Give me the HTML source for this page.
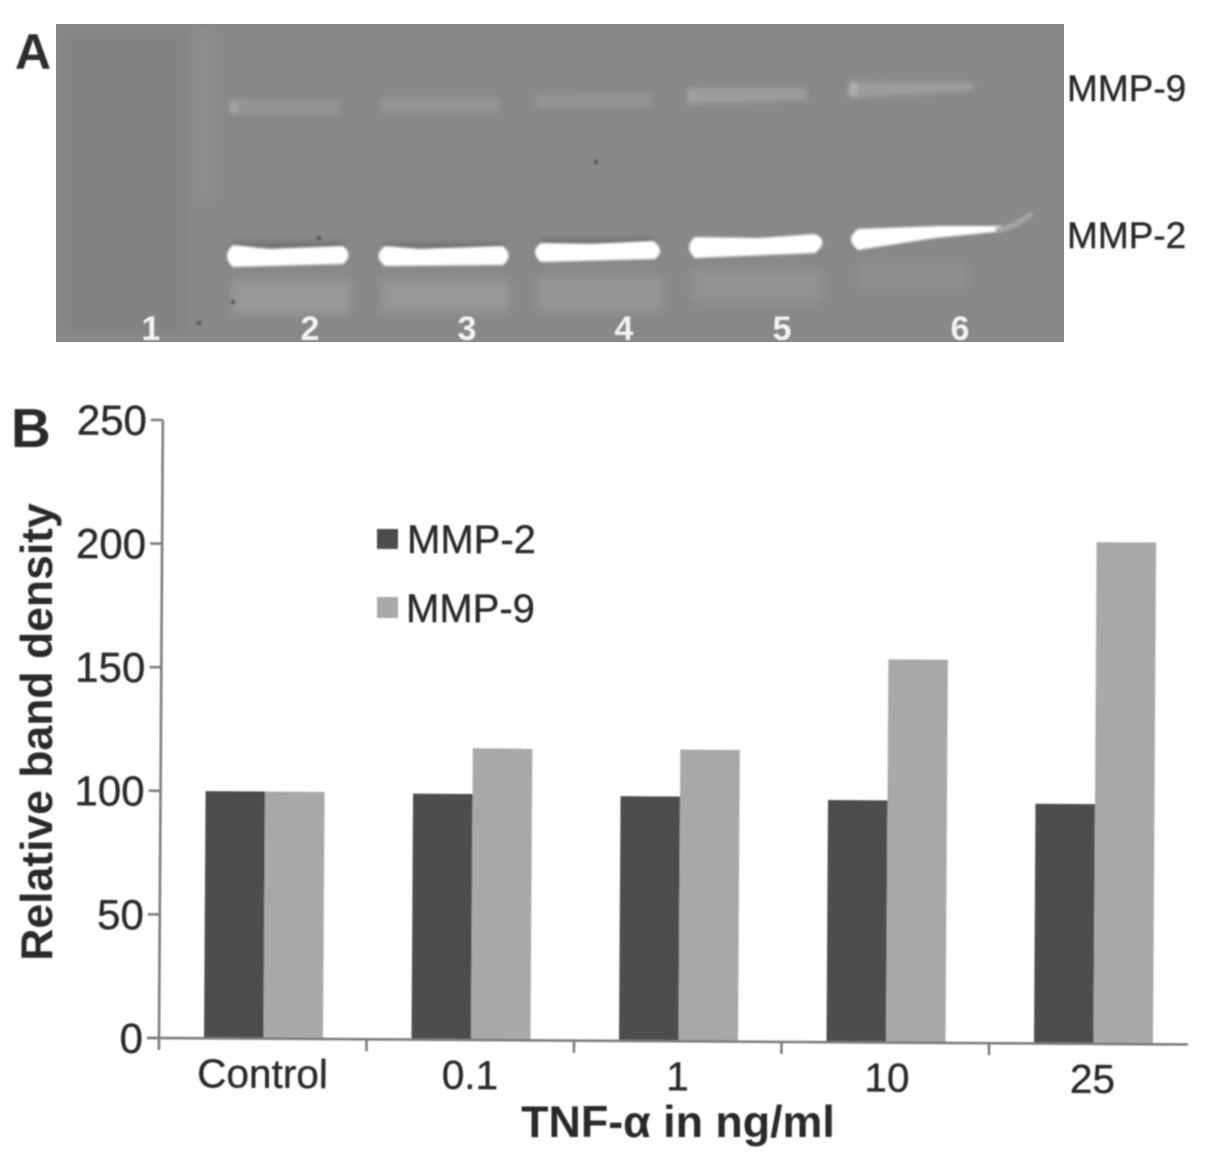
<!DOCTYPE html>
<html lang="en">
<head>
<meta charset="utf-8">
<title>MMP-2 and MMP-9 zymography with relative band density</title>
<style>
html,body{margin:0;padding:0;background:#fff;width:1205px;height:1164px;overflow:hidden}
svg{display:block;font-family:"Liberation Sans",sans-serif}
</style>
</head>
<body>
<svg id="figure" width="1205" height="1164" viewBox="0 0 1205 1164" xmlns="http://www.w3.org/2000/svg">
<defs>
<filter id="soft" x="-5%" y="-5%" width="110%" height="110%"><feGaussianBlur stdDeviation="0.8"/></filter>
<filter id="b1" x="-10%" y="-60%" width="120%" height="220%"><feGaussianBlur stdDeviation="1.2"/></filter>
<filter id="b2" x="-10%" y="-100%" width="120%" height="300%"><feGaussianBlur stdDeviation="2.6"/></filter>
<filter id="b4" x="-15%" y="-60%" width="130%" height="220%"><feGaussianBlur stdDeviation="4"/></filter>
</defs>

<g>
<text x="15" y="69" font-size="50" font-weight="bold" fill="#2e2e2e" filter="url(#soft)">A</text>
<g>
<rect x="56" y="24" width="1008" height="318" fill="#888888"/>
<rect x="64" y="32" width="122" height="300" fill="#838383" filter="url(#b4)"/>
<rect x="192" y="30" width="24" height="170" fill="#8d8d8d" filter="url(#b4)"/>
<g filter="url(#b2)">
<path d="M230 99 L340 100 L338 114 L232 115Z" fill="#949494"/>
<path d="M380 98 L500 98 L498 113 L382 113Z" fill="#949494"/>
<path d="M534 95 L650 93 L650 107 L536 109Z" fill="#949494"/>
<path d="M688 88 L808 88 L806 100 L692 104Z" fill="#9c9c9c"/>
<path d="M850 82 L975 83 L972 91 L852 98Z" fill="#9c9c9c"/>
<rect x="230" y="100" width="6" height="14" fill="#a6a6a6"/>
<rect x="688" y="90" width="6" height="14" fill="#a6a6a6"/>
<rect x="849" y="82" width="8" height="15" fill="#b0b0b0"/>
</g>
<g filter="url(#b4)">
<rect x="232" y="280" width="118" height="34" fill="#979797"/>
<rect x="381" y="280" width="128" height="32" fill="#979797"/>
<rect x="538" y="276" width="124" height="36" fill="#959595"/>
<rect x="692" y="270" width="130" height="32" fill="#929292"/>
<rect x="858" y="264" width="110" height="24" fill="#8e8e8e"/>
</g>
<g fill="#6f6f6f" filter="url(#b2)">
<rect x="232" y="242" width="112" height="6"/>
<rect x="384" y="243" width="120" height="6"/>
<rect x="541" y="238" width="112" height="6"/>
</g>
<g filter="url(#b1)" fill="#ffffff">
<path d="M233 245 Q221 256 233 267 L343 264 Q354 255 343 246 L270 249Z"/>
<path d="M385 246 Q372 256 385 266 L503 265 Q514 256 503 246 L420 249Z"/>
<path d="M541 243 Q529 252 541 262 L655 259 Q666 250 653 241 L590 244Z"/>
<path d="M695 237 Q683 247 695 258 L815 253 Q830 241 815 234 L760 238Z"/>
<path d="M858 229 Q844 239 858 250 L935 238 L995 232 L1002 226 L940 226 Z"/>
<path d="M995 228 Q1015 224 1030 211 L1033 216 Q1018 229 998 233Z" fill="#a4a4a4"/>
</g>
<g fill="#4a4a4a" filter="url(#b1)">
<circle cx="319" cy="238" r="2"/>
<circle cx="199" cy="323" r="2"/>
<circle cx="596" cy="162" r="2"/>
<circle cx="233" cy="302" r="2"/>
</g>
<g font-size="34" font-weight="bold" fill="#f2f2f2" text-anchor="middle" filter="url(#soft)">
<text x="151" y="340">1</text>
<text x="310" y="340">2</text>
<text x="467" y="340">3</text>
<text x="624" y="340">4</text>
<text x="782" y="340">5</text>
<text x="960" y="340">6</text>
</g>
</g>
<g font-size="37" fill="#2b2b2b" stroke="#2b2b2b" stroke-width="0.4" filter="url(#soft)">
<text x="1067" y="101">MMP-9</text>
<text x="1067" y="248">MMP-2</text>
</g>
</g>

<g filter="url(#soft)">
<text x="11" y="447" font-size="55" font-weight="bold" fill="#2b2b2b">B</text>
<g id="plot" transform="rotate(0.36 159 1038)"></g>
<text transform="translate(52 732) rotate(-90)" text-anchor="middle" font-size="44.5" font-weight="bold" fill="#2b2b2b">Relative band density</text>
<text x="678" y="1137" text-anchor="middle" font-size="44.8" font-weight="bold" fill="#2b2b2b">TNF-α in ng/ml</text>
<g font-size="40" fill="#2b2b2b" stroke="#2b2b2b" stroke-width="0.4">
<g>
<rect x="377" y="529" width="21" height="20" fill="#4d4d4d" stroke="none"/>
<text x="407" y="553">MMP-2</text>
</g>
<g>
<rect x="377" y="597" width="21" height="21" fill="#a8a8a8" stroke="none"/>
<text x="406" y="622">MMP-9</text>
</g>
</g>
</g>

<script>
const categories = ["Control", "0.1", "1", "10", "25"];
const mmp2Values = [100, 99.5, 99, 98, 97];
const mmp9Values = [100, 118, 118, 155, 203];
const yTickLabels = [0, 50, 100, 150, 200, 250];

const NS = "http://www.w3.org/2000/svg";
const plot = document.getElementById("plot");
const x0 = 159, xEnd = 1188, y0 = 1038, yTop = 420, yMax = 250;
const catW = 207.5, barW = 59.5, barOffset = 45;
const axisColor = "#7d7d7d", textColor = "#2b2b2b";

function yScale(v) { return y0 - (v / yMax) * (y0 - yTop); }
function xCat(i) { return x0 + i * catW; }
function mk(tag, attrs, text) {
  const el = document.createElementNS(NS, tag);
  for (const k in attrs) el.setAttribute(k, attrs[k]);
  if (text !== undefined) el.textContent = text;
  plot.appendChild(el);
  return el;
}

categories.forEach(function (c, i) {
  const a = mk("rect", { x: xCat(i) + barOffset, y: yScale(mmp2Values[i]), width: barW, height: y0 - yScale(mmp2Values[i]), fill: "#4d4d4d" });
  
  
  const b = mk("rect", { x: xCat(i) + barOffset + barW, y: yScale(mmp9Values[i]), width: barW, height: y0 - yScale(mmp9Values[i]), fill: "#a8a8a8" });
  
  
  const t = mk("text", { x: xCat(i) + catW / 2 + (i === 3 ? 2 : 0), y: y0 + 49, "text-anchor": "middle", "font-size": 40.5, fill: textColor, stroke: textColor, "stroke-width": 0.4 }, c);
  
  
});

const yAxis = mk("line", { x1: x0, x2: x0, y1: yTop, y2: y0 + 12, stroke: axisColor, "stroke-width": 2.6 });


const xAxis = mk("line", { x1: x0 - 12, x2: xEnd, y1: y0, y2: y0, stroke: axisColor, "stroke-width": 2.6 });



yTickLabels.forEach(function (v) {
  const tick = mk("line", { x1: x0 - 12, x2: x0, y1: yScale(v), y2: yScale(v), stroke: axisColor, "stroke-width": 2.6 });
  
  
  const label = mk("text", { x: x0 - 16, y: yScale(v) + 15, "text-anchor": "end", "font-size": 42, fill: textColor, stroke: textColor, "stroke-width": 0.4 }, v);
  
  
});

categories.slice(0, -1).forEach(function (c, i) {
  const tick = mk("line", { x1: xCat(i + 1), x2: xCat(i + 1), y1: y0, y2: y0 + 12, stroke: axisColor, "stroke-width": 2.6 });
  
  
});
</script>
</svg>
</body>
</html>
